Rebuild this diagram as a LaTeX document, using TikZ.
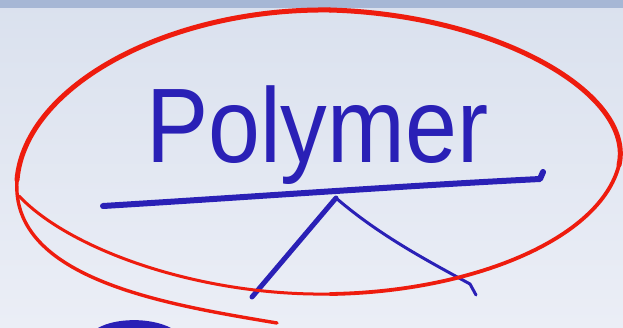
\documentclass[tikz,border=0pt]{standalone}
\usepackage{fontspec}
\setmainfont{Liberation Sans}
\usepackage{tikz}
\usetikzlibrary{positioning}

\definecolor{inkblue}{RGB}{42,32,182}
\definecolor{inkred}{RGB}{238,28,14}
\definecolor{bandblue}{RGB}{166,183,213}
\definecolor{boardtop}{RGB}{218,225,238}
\definecolor{boardbot}{RGB}{235,238,246}

\begin{document}
\begin{tikzpicture}[x=1pt, y=-1pt]
    \tikzset{
    word/.style=
    {
        text=inkblue,
        inner sep=0pt,
        font=\fontsize{106}{110}\selectfont,
        xscale=0.88
    },
    bluepen/.style=
    {
        draw=inkblue,
        line width=5pt,
        line cap=round,
        line join=round
    },
    redpen/.style=
    {
        draw=inkred,
        line width=4pt,
        line cap=round,
        line join=round
    }
}

  \useasboundingbox (0,0) rectangle (623,327);
  \clip (0,0) rectangle (623,327);

  % board
  \shade[top color=boardtop, bottom color=boardbot] (0,0) rectangle (623,327);
  \fill[bandblue] (0,0) rectangle (623,8);

  \node[word, anchor=base west] (polymer) at (146,162) {Polymer};

  \coordinate (barW) at (103,206);
  \coordinate (barE) at (540,179);
  \coordinate (apex) at (336,198);
  \coordinate (leafL) at (252,297);
  \coordinate (leafR) at (476,295);

  \draw[bluepen, line width=6pt] (barW) .. controls (250,197) and (400,186) .. (barE) -- ++(3,-7);
  \draw[bluepen] (apex) -- (leafL);
  \draw[bluepen, line width=3pt] (apex) .. controls (380,236) and (430,262) .. (470,284) -- (leafR);

  % ring round the word
  \coordinate (ringS) at (19,196);
  \coordinate (ringB) at (330,294);
  \coordinate (ringR) at (619,165);
  \coordinate (ringT) at (330,10);
  \coordinate (ringL) at (17,180);
  \coordinate (ringE) at (277,323);
  \draw[redpen, line width=3pt] (ringS) .. controls (70,250) and (200,296) .. (ringB);
  \draw[redpen, line width=3.8pt] (ringB) .. controls (470,292) and (600,240) .. (ringR);
  \draw[redpen, line width=5pt] (ringR) .. controls (635,95) and (500,15) .. (ringT);
  \draw[redpen, line width=5pt] (ringT) .. controls (170,8) and (25,85) .. (ringL);
  \draw[redpen, line width=3.4pt] (ringL) .. controls (10,280) and (170,305) .. (ringE);

  \fill[inkblue] (98,328) .. controls (115,318) and (150,317) .. (171,328) -- cycle;

\end{tikzpicture}
\end{document}
